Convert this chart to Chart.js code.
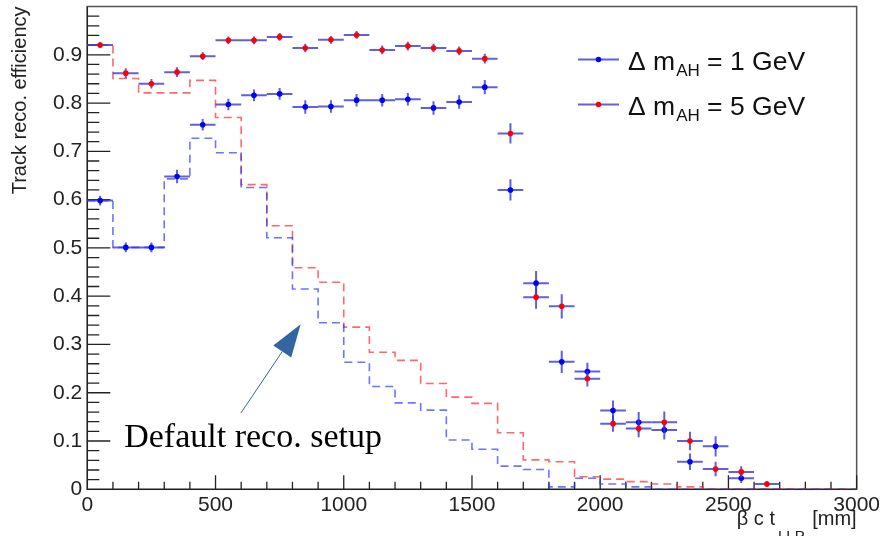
<!DOCTYPE html>
<html>
<head>
<meta charset="utf-8">
<script src="https://cdn.jsdelivr.net/npm/chart.js@4.4.1/dist/chart.umd.min.js"></script>
<style>
  html, body { margin: 0; padding: 0; background: #fff; }
  canvas { display: block; }
</style>
</head>
<body>
<canvas id="effChart" width="883" height="536"></canvas>
<script>
// bins of 100 mm in beta c t
const binCenters = [50, 150, 250, 350, 450, 550, 650, 750, 850, 950,
                    1050, 1150, 1250, 1350, 1450, 1550, 1650, 1750, 1850, 1950,
                    2050, 2150, 2250, 2350, 2450, 2550, 2650];
const binLowEdges = [0, 100, 200, 300, 400, 500, 600, 700, 800, 900,
                     1000, 1100, 1200, 1300, 1400, 1500, 1600, 1700, 1800, 1900,
                     2000, 2100, 2200, 2300, 2400, 2500, 2600, 2700, 2800, 2900];
const xMax = 3000;
const halfBin = 50;

// improved reco, points with errors
const effDm1 = [0.598, 0.501, 0.501, 0.648, 0.755, 0.797, 0.816, 0.819, 0.792, 0.793,
                0.806, 0.806, 0.808, 0.790, 0.802, 0.833, 0.620, 0.427, 0.264, 0.244,
                0.163, 0.139, 0.123, 0.057, 0.089, 0.023];
const errDm1 = [0.010, 0.010, 0.010, 0.014, 0.012, 0.012, 0.012, 0.012, 0.014, 0.013,
                0.013, 0.013, 0.013, 0.014, 0.014, 0.015, 0.022, 0.025, 0.023, 0.018,
                0.021, 0.021, 0.020, 0.017, 0.021, 0.010];
const effDm5 = [0.920, 0.862, 0.840, 0.864, 0.897, 0.930, 0.930, 0.937, 0.914, 0.931,
                0.941, 0.910, 0.918, 0.914, 0.908, 0.892, 0.737, 0.398, 0.379, 0.229,
                0.136, 0.126, 0.139, 0.100, 0.042, 0.036, 0.011];
const errDm5 = [0.006, 0.010, 0.010, 0.010, 0.008, 0.008, 0.008, 0.008, 0.009, 0.008,
                0.008, 0.009, 0.009, 0.009, 0.009, 0.010, 0.021, 0.024, 0.025, 0.016,
                0.017, 0.018, 0.022, 0.019, 0.015, 0.012, 0.006];

// default reco setup, dashed histograms
const defDm1 = [0.598, 0.501, 0.501, 0.643, 0.727, 0.697, 0.625, 0.521, 0.415, 0.345,
                0.263, 0.213, 0.179, 0.164, 0.102, 0.083, 0.048, 0.041, 0.005, 0.023,
                0.011, 0.005, 0, 0, 0, 0, 0, 0, 0, 0];
const defDm5 = [0.920, 0.851, 0.821, 0.821, 0.847, 0.770, 0.631, 0.546, 0.459, 0.429,
                0.336, 0.284, 0.267, 0.219, 0.191, 0.178, 0.117, 0.061, 0.057, 0.026,
                0.021, 0.016, 0.011, 0.005, 0, 0, 0, 0, 0, 0];

const legendLabels = ['1 GeV', '5 GeV'];
const annotationText = 'Default reco. setup';

const errColor = 'rgba(55, 55, 215, 0.8)';
const fontSans = '"Liberation Sans", Arial, sans-serif';

function points(vals) {
    return vals.map((v, i) => ({ x: binCenters[i], y: v }));
}
function steps(vals) {
    const d = vals.map((v, i) => ({ x: binLowEdges[i], y: v }));
    d.push({ x: xMax, y: vals[vals.length - 1] });
    return d;
}

const rootStyle = {
    id: 'rootStyle',
    beforeDatasetsDraw(chart) {
        const { ctx, chartArea: a, scales: { x, y } } = chart;
        ctx.save();
        ctx.strokeStyle = '#555';
        ctx.lineWidth = 1.5;
        ctx.strokeRect(a.left, a.top, a.right - a.left, a.bottom - a.top);
        ctx.strokeStyle = '#222';
        ctx.lineWidth = 1.3;
        ctx.beginPath();
        ctx.moveTo(a.left, a.top); ctx.lineTo(a.left, a.bottom); ctx.lineTo(a.right, a.bottom);
        for (let i = 0; i <= 30; i++) {
            const px = x.getPixelForValue(i * 100);
            ctx.moveTo(px, a.bottom);
            ctx.lineTo(px, a.bottom - (i % 5 === 0 ? 14 : 7.5));
        }
        for (let i = 0; i < 50; i++) {
            const py = y.getPixelForValue(i * 0.02);
            ctx.moveTo(a.left, py);
            ctx.lineTo(a.left + (i % 5 === 0 ? 23 : 12), py);
        }
        ctx.stroke();
        ctx.restore();
    },
    beforeDatasetDraw(chart, args) {
        const ds = chart.data.datasets[args.index];
        if (!ds.errors) return;
        const { ctx, scales: { x, y } } = chart;
        ctx.save();
        ctx.strokeStyle = errColor;
        ctx.lineWidth = 2;
        ctx.beginPath();
        ds.data.forEach((p, i) => {
            const px = x.getPixelForValue(p.x), py = y.getPixelForValue(p.y);
            ctx.moveTo(x.getPixelForValue(p.x - halfBin), py);
            ctx.lineTo(x.getPixelForValue(p.x + halfBin), py);
            ctx.moveTo(px, y.getPixelForValue(p.y - ds.errors[i]));
            ctx.lineTo(px, y.getPixelForValue(p.y + ds.errors[i]));
        });
        ctx.stroke();
        ctx.restore();
    },
    afterDraw(chart) {
        const { ctx, chartArea: a, scales: { x, y } } = chart;
        ctx.save();

        // legend
        const markers = ['#0000ff', '#ff0000'];
        legendLabels.forEach((lab, i) => {
            const ly = 59.5 + i * 45;
            ctx.strokeStyle = errColor;
            ctx.lineWidth = 2;
            ctx.beginPath();
            ctx.moveTo(578, ly); ctx.lineTo(619, ly);
            ctx.stroke();
            ctx.fillStyle = markers[i];
            ctx.beginPath();
            ctx.arc(598.5, ly, 2.8, 0, Math.PI * 2);
            ctx.fill();
            ctx.fillStyle = '#111';
            ctx.textBaseline = 'alphabetic';
            ctx.font = '26.5px ' + fontSans;
            let tx = 628;
            const base = ly + 10.5;
            ctx.fillText('\u0394 m', tx, base);
            tx += ctx.measureText('\u0394 m').width + 1;
            ctx.font = '17px ' + fontSans;
            ctx.fillText('AH', tx, base + 6);
            tx += ctx.measureText('AH').width;
            ctx.font = '26.5px ' + fontSans;
            ctx.fillText(' = ' + lab, tx, base);
        });

        // x axis title with subscript
        ctx.fillStyle = '#222';
        ctx.font = '20px ' + fontSans;
        const t1 = '\u03b2 c t', t3 = ' [mm]';
        const w1 = ctx.measureText(t1).width, w3 = ctx.measureText(t3).width;
        ctx.font = '15px ' + fontSans;
        const w2 = ctx.measureText('LLP').width + 5;
        const xx = a.right - (w1 + w2 + w3);
        ctx.font = '20px ' + fontSans;
        ctx.fillText(t1, xx, 525);
        ctx.font = '15px ' + fontSans;
        ctx.fillText('LLP', xx + w1 + 3, 541);
        ctx.font = '20px ' + fontSans;
        ctx.fillText(t3, xx + w1 + w2, 525);

        // annotation and arrow
        ctx.fillStyle = '#000';
        ctx.font = '34px "Liberation Serif", "Times New Roman", serif';
        ctx.fillText(annotationText, x.getPixelForValue(144), y.getPixelForValue(0.088));
        const x0 = x.getPixelForValue(599), y0 = y.getPixelForValue(0.158);
        const x1 = x.getPixelForValue(832), y1 = y.getPixelForValue(0.342);
        const ang = Math.atan2(y1 - y0, x1 - x0);
        const hl = 33, hw = 10.8;
        const bx = x1 - hl * Math.cos(ang), by = y1 - hl * Math.sin(ang);
        ctx.strokeStyle = '#3366a0';
        ctx.fillStyle = '#3366a0';
        ctx.lineWidth = 1;
        ctx.beginPath();
        ctx.moveTo(x0, y0); ctx.lineTo(bx, by);
        ctx.stroke();
        ctx.beginPath();
        ctx.moveTo(x1, y1);
        ctx.lineTo(bx + hw * Math.sin(ang), by - hw * Math.cos(ang));
        ctx.lineTo(bx - hw * Math.sin(ang), by + hw * Math.cos(ang));
        ctx.closePath();
        ctx.fill();
        ctx.restore();
    }
};

new Chart(document.getElementById('effChart'), {
    type: 'scatter',
    data: {
        datasets: [
            {
                label: '\u0394 m_AH = 5 GeV',
                data: points(effDm5),
                errors: errDm5,
                pointRadius: 2.8,
                pointBackgroundColor: '#ff0000',
                pointBorderWidth: 0
            },
            {
                label: '\u0394 m_AH = 1 GeV',
                data: points(effDm1),
                errors: errDm1,
                pointRadius: 2.8,
                pointBackgroundColor: '#0000ff',
                pointBorderWidth: 0
            },
            {
                label: 'default, 1 GeV',
                data: steps(defDm1),
                showLine: true,
                stepped: 'before',
                pointRadius: 0,
                borderColor: 'rgba(40, 60, 255, 0.7)',
                borderWidth: 1.6,
                borderDash: [8, 5]
            },
            {
                label: 'default, 5 GeV',
                data: steps(defDm5),
                showLine: true,
                stepped: 'before',
                pointRadius: 0,
                borderColor: 'rgba(255, 40, 40, 0.7)',
                borderWidth: 1.6,
                borderDash: [8, 5]
            }
        ]
    },
    options: {
        responsive: false,
        animation: false,
        devicePixelRatio: 1,
        layout: { padding: { top: 6.5, right: 26, left: 0, bottom: 0 } },
        plugins: { legend: { display: false }, tooltip: { enabled: false } },
        scales: {
            x: {
                type: 'linear',
                min: 0,
                max: xMax,
                grid: { display: false, drawTicks: false },
                border: { display: false },
                ticks: {
                    stepSize: 500,
                    padding: 3,
                    maxRotation: 0,
                    autoSkip: false,
                    color: '#222',
                    font: { family: fontSans, size: 21 },
                    callback: v => String(v)
                },
                afterFit: s => { s.height = 46.7; }
            },
            y: {
                min: 0,
                max: 1,
                grid: { display: false, drawTicks: false },
                border: { display: false },
                ticks: {
                    stepSize: 0.1,
                    padding: 5,
                    color: '#222',
                    font: { family: fontSans, size: 21 },
                    callback: v => v > 0.95 ? '' : (v === 0 ? '0' : v.toFixed(1))
                },
                title: {
                    display: true,
                    text: 'Track reco. efficiency',
                    align: 'end',
                    color: '#222',
                    padding: { top: 8, bottom: 0 },
                    font: { family: fontSans, size: 20 }
                },
                afterFit: s => { s.width = 87.3; s.paddingTop = 0; s.paddingBottom = 0; }
            }
        }
    },
    plugins: [rootStyle]
});
</script>
</body>
</html>
